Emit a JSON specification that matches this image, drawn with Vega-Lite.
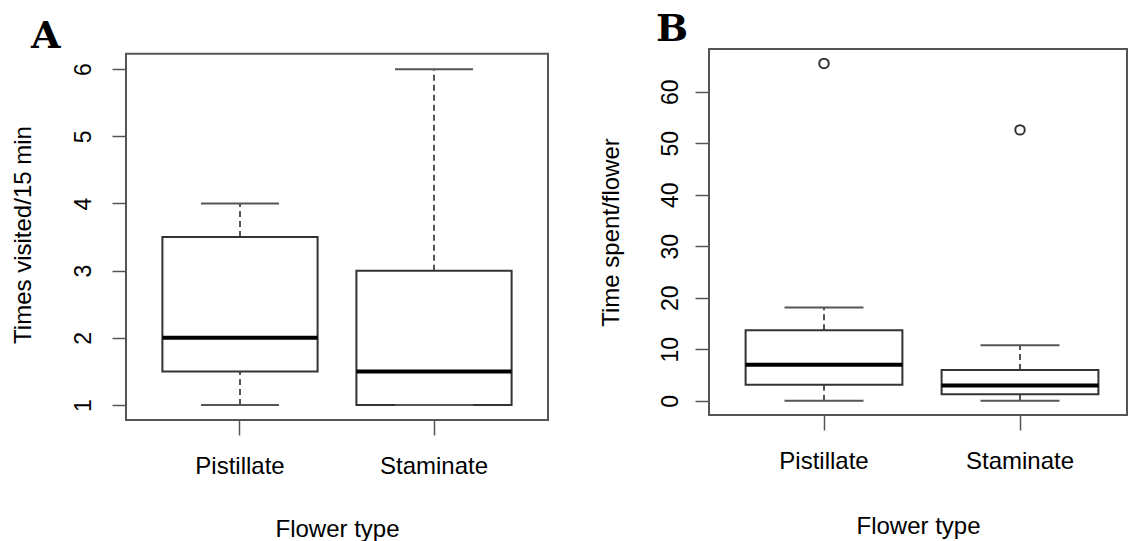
{
  "$schema": "https://vega.github.io/schema/vega-lite/v6.json",
  "background": "white",
  "padding": {"left": 11, "top": 10, "right": 0, "bottom": 0},
  "spacing": 49,
  "datasets": {
    "visits": [
      {"type": "Pistillate", "lower": 1, "q1": 1.5, "median": 2, "q3": 3.5, "upper": 4},
      {"type": "Staminate", "lower": 1, "q1": 1, "median": 1.5, "q3": 3, "upper": 6}
    ],
    "time": [
      {"type": "Pistillate", "lower": 0, "q1": 3.1, "median": 7, "q3": 13.7, "upper": 18.1},
      {"type": "Staminate", "lower": 0, "q1": 1.3, "median": 3, "q3": 6, "upper": 10.8}
    ],
    "timeOutliers": [
      {"type": "Pistillate", "value": 65.5},
      {"type": "Staminate", "value": 52.6}
    ],
    "frameA": [
      {"top": 6.228, "bottom": 0.777}
    ]
  },
  "config": {
    "view": {"stroke": "#555", "strokeWidth": 2},
    "font": "Liberation Sans",
    "axis": {
      "domain": false,
      "grid": false,
      "tickColor": "#555",
      "tickWidth": 1.5,
      "labelColor": "black",
      "titleColor": "black",
      "labelFont": "Liberation Sans",
      "titleFont": "Liberation Sans",
      "titleFontWeight": "normal",
      "labelFontSize": 24,
      "titleFontSize": 24
    },
    "axisX": {"labelAngle": 0, "tickSize": 15, "labelPadding": 19, "titlePadding": 39},
    "axisY": {"tickSize": 14, "labelAngle": -90, "labelAlign": "center", "labelBaseline": "bottom", "labelFontSize": 23, "format": "d"}
  },
  "hconcat": [
    {
      "title": {"text": "A", "anchor": "start", "frame": "group", "dx": -95, "font": "DejaVu Serif", "fontWeight": "bold", "fontSize": 38, "offset": -7, "color": "black"},
      "width": 422,
      "height": 371,
      "view": {"stroke": null},
      "layer": [
        {
          "data": {"name": "frameA"},
          "mark": {"type": "rect", "filled": false, "stroke": "#555", "strokeWidth": 2},
          "encoding": {
            "y": {"field": "top", "type": "quantitative", "title": "Times visited/15 min", "scale": {"domain": [0.777, 6.3], "nice": false, "zero": false}, "axis": {"values": [1, 2, 3, 4, 5, 6], "labelPadding": 17, "titlePadding": 37}},
            "y2": {"field": "bottom"}
          }
        },
        {
          "data": {"name": "visits"},
          "mark": {"type": "rule", "strokeDash": [6, 4], "color": "#555", "strokeWidth": 2},
          "encoding": {
            "x": {"field": "type", "type": "nominal", "title": "Flower type", "scale": {"paddingInner": 0, "paddingOuter": 0.0876}},
            "y": {"field": "lower", "type": "quantitative", "title": "Times visited/15 min"},
            "y2": {"field": "q1"}
          }
        },
        {
          "data": {"name": "visits"},
          "mark": {"type": "rule", "strokeDash": [6, 4], "color": "#555", "strokeWidth": 2},
          "encoding": {
            "x": {"field": "type", "type": "nominal", "title": "Flower type"},
            "y": {"field": "q3", "type": "quantitative", "title": "Times visited/15 min"},
            "y2": {"field": "upper"}
          }
        },
        {
          "data": {"name": "visits"},
          "mark": {"type": "bar", "fill": "white", "stroke": "#333", "strokeWidth": 2, "width": {"band": 0.8}},
          "encoding": {
            "x": {"field": "type", "type": "nominal", "title": "Flower type"},
            "y": {"field": "q1", "type": "quantitative", "title": "Times visited/15 min"},
            "y2": {"field": "q3"}
          }
        },
        {
          "data": {"name": "visits"},
          "mark": {"type": "tick", "color": "black", "thickness": 4, "size": 155, "opacity": 1},
          "encoding": {
            "x": {"field": "type", "type": "nominal", "title": "Flower type"},
            "y": {"field": "median", "type": "quantitative", "title": "Times visited/15 min"}
          }
        },
        {
          "data": {"name": "visits"},
          "mark": {"type": "tick", "color": "#555", "thickness": 2, "size": 78, "opacity": 1},
          "encoding": {
            "x": {"field": "type", "type": "nominal", "title": "Flower type"},
            "y": {"field": "lower", "type": "quantitative", "title": "Times visited/15 min"}
          }
        },
        {
          "data": {"name": "visits"},
          "mark": {"type": "tick", "color": "#555", "thickness": 2, "size": 78, "opacity": 1},
          "encoding": {
            "x": {"field": "type", "type": "nominal", "title": "Flower type"},
            "y": {"field": "upper", "type": "quantitative", "title": "Times visited/15 min"}
          }
        }
      ]
    },
    {
      "title": {"text": "B", "anchor": "start", "frame": "group", "dx": -53, "font": "DejaVu Serif", "fontWeight": "bold", "fontSize": 38, "offset": 0, "color": "black"},
      "width": 418,
      "height": 366,
      "encoding": {
        "x": {"field": "type", "type": "nominal", "title": "Flower type", "scale": {"paddingInner": 0, "paddingOuter": 0.0663, "align": 0.654}, "axis": {"titlePadding": 41}}
      },
      "layer": [
        {
          "data": {"name": "time"},
          "mark": {"type": "rule", "strokeDash": [6, 4], "color": "#555", "strokeWidth": 2},
          "encoding": {
            "y": {"field": "lower", "type": "quantitative", "title": "Time spent/flower", "scale": {"domain": [-2.75, 68.3], "nice": false, "zero": false}, "axis": {"values": [0, 10, 20, 30, 40, 50, 60], "labelPadding": 13, "titlePadding": 36}},
            "y2": {"field": "q1"}
          }
        },
        {
          "data": {"name": "time"},
          "mark": {"type": "rule", "strokeDash": [6, 4], "color": "#555", "strokeWidth": 2},
          "encoding": {
            "y": {"field": "q3", "type": "quantitative", "title": "Time spent/flower"},
            "y2": {"field": "upper"}
          }
        },
        {
          "data": {"name": "time"},
          "mark": {"type": "bar", "fill": "white", "stroke": "#333", "strokeWidth": 2, "width": {"band": 0.8}},
          "encoding": {
            "y": {"field": "q1", "type": "quantitative", "title": "Time spent/flower"},
            "y2": {"field": "q3"}
          }
        },
        {
          "data": {"name": "time"},
          "mark": {"type": "tick", "color": "black", "thickness": 4, "size": 157, "opacity": 1},
          "encoding": {"y": {"field": "median", "type": "quantitative", "title": "Time spent/flower"}}
        },
        {
          "data": {"name": "time"},
          "mark": {"type": "tick", "color": "#555", "thickness": 2, "size": 79, "opacity": 1},
          "encoding": {"y": {"field": "lower", "type": "quantitative", "title": "Time spent/flower"}}
        },
        {
          "data": {"name": "time"},
          "mark": {"type": "tick", "color": "#555", "thickness": 2, "size": 79, "opacity": 1},
          "encoding": {"y": {"field": "upper", "type": "quantitative", "title": "Time spent/flower"}}
        },
        {
          "data": {"name": "timeOutliers"},
          "mark": {"type": "point", "filled": false, "color": "#333", "strokeWidth": 2, "size": 90, "opacity": 1},
          "encoding": {"y": {"field": "value", "type": "quantitative", "title": "Time spent/flower"}}
        }
      ]
    }
  ]
}
